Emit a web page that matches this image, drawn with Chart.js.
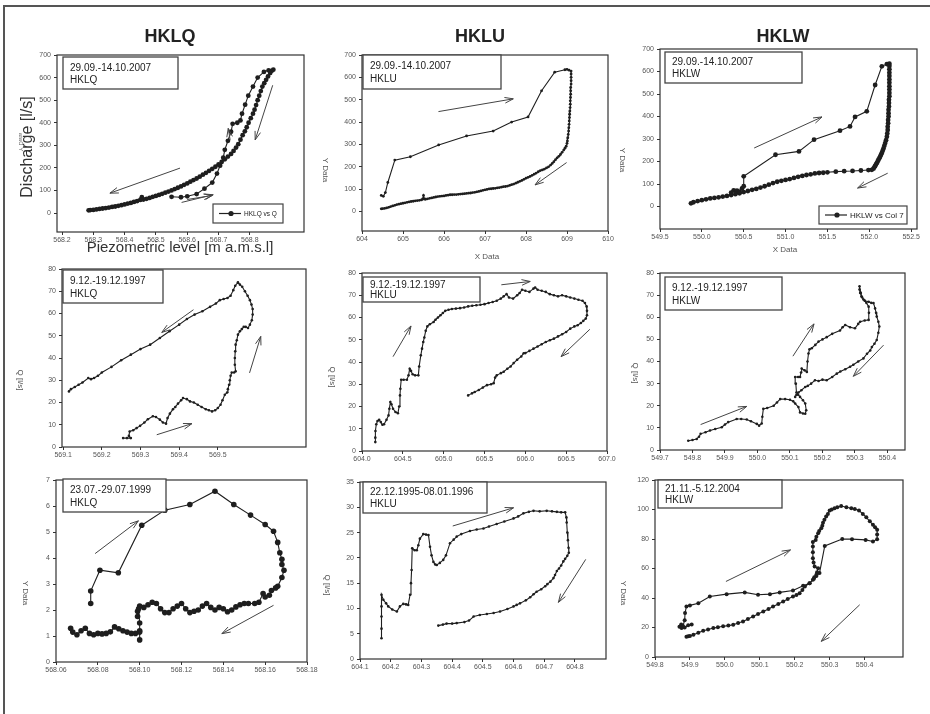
<!DOCTYPE html>
<html><head><meta charset="utf-8">
<script src="https://cdn.jsdelivr.net/npm/chart.js@4"></script>
<style>
body{margin:0;background:#fff;}
#wrap{position:relative;width:930px;height:714px;overflow:hidden;background:#fff;}
#wrap canvas{position:absolute;left:0;top:0;}
#frame{position:absolute;left:3px;top:5px;width:1000px;height:1000px;border:2px solid #555;box-sizing:border-box;}
</style></head>
<body><div id="wrap"><div id="frame"></div></div>
<script>
// ---------- DATA ----------
// [piezometric level, discharge] in sequence
const hklq2007 = [[568.55,72],[568.58,70],[568.60,74],[568.63,84],[568.655,108],[568.68,135],[568.695,175],[568.705,210],[568.715,245],[568.72,280],[568.73,320],[568.74,360],[568.745,395],[568.76,400],[568.77,410],[568.775,440],[568.785,480],[568.795,520],[568.81,560],[568.825,600],[568.845,625],[568.86,632],[568.875,635],
[568.87,630],[568.865,620],[568.858,605],[568.852,590],[568.846,575],[568.84,560],[568.835,540],[568.83,520],[568.825,500],[568.82,478],[568.815,458],[568.81,440],[568.803,420],[568.796,400],[568.79,380],[568.784,362],[568.777,345],[568.77,325],[568.763,305],[568.756,290],[568.748,275],[568.74,262],[568.73,250],[568.72,238],[568.71,226],[568.70,215],[568.69,205],[568.68,196],[568.67,187],[568.66,178],[568.65,170],[568.64,161],[568.63,153],[568.62,146],[568.61,139],[568.60,131],[568.59,125],[568.58,118],[568.57,112],[568.56,106],[568.55,100],[568.54,95],[568.53,90],[568.52,85],[568.51,80],[568.50,76],[568.49,72],[568.48,67],[568.47,63],[568.46,60],[568.455,70],[568.45,58],[568.44,53],[568.43,49],[568.42,45],[568.41,42],[568.40,38],[568.39,35],[568.38,32],[568.37,29],[568.36,27],[568.35,24],[568.34,22],[568.33,20],[568.32,18],[568.31,16],[568.30,14],[568.29,13],[568.285,12]];

const hklu2007 = [[604.47,72],[604.52,68],[604.57,85],[604.63,130],[604.8,230],[605.18,245],[605.87,298],[606.55,338],[607.2,360],[607.65,400],[608.05,423],[608.38,540],[608.7,623],[608.95,634],[609.0,636],[609.05,632],[609.1,628],
[609.1,615],[609.1,600],[609.1,585],[609.1,570],[609.09,555],[609.09,540],[609.09,525],[609.085,510],[609.08,495],[609.08,480],[609.075,465],[609.07,450],[609.065,435],[609.06,420],[609.055,405],[609.05,390],[609.045,375],[609.04,360],[609.03,345],[609.02,330],[609.01,315],[609.0,305],[608.98,292],[608.95,283],[608.92,275],[608.88,265],[608.84,255],[608.8,247],[608.76,240],[608.72,232],[608.68,223],[608.64,215],[608.6,208],[608.55,200],[608.5,195],[608.45,190],[608.4,186],[608.35,183],[608.3,178],[608.25,172],[608.2,167],[608.15,162],[608.1,157],[608.05,153],[608.0,149],[607.95,144],[607.9,139],[607.85,135],[607.8,131],[607.75,127],[607.7,123],[607.65,120],[607.6,117],[607.55,114],[607.5,112],[607.45,111],[607.4,109],[607.35,107],[607.3,106],[607.25,104],[607.2,103],[607.15,102],[607.1,101],[607.05,99],[607.0,97],[606.95,95],[606.9,92],[606.85,90],[606.8,88],[606.75,86],[606.7,85],[606.65,83],[606.6,82],[606.55,81],[606.5,80],[606.45,79],[606.4,78],[606.35,77],[606.3,76],[606.25,76],[606.2,75],[606.15,75],[606.1,73],[606.05,72],[606.0,70],[605.95,69],[605.9,68],[605.85,67],[605.8,65],[605.75,63],[605.7,61],[605.65,59],[605.6,57],[605.55,55],[605.52,56],[605.5,72],[605.48,56],[605.45,52],[605.4,50],[605.35,49],[605.3,48],[605.25,46],[605.2,45],[605.15,43],[605.1,41],[605.05,39],[605.0,37],[604.95,35],[604.9,33],[604.85,31],[604.8,28],[604.75,25],[604.7,22],[604.65,19],[604.6,16],[604.55,14],[604.5,13],[604.47,12]];

const hklw2007 = [[550.35,62],[550.38,72],[550.42,70],[550.45,66],[550.48,80],[550.5,90],[550.5,134],[550.88,230],[551.16,245],[551.34,297],[551.65,337],[551.77,356],[551.83,398],[551.97,423],[552.07,540],[552.15,623],[552.21,633],[552.24,635],
[552.24,625],[552.24,610],[552.24,595],[552.24,580],[552.24,565],[552.24,550],[552.24,535],[552.24,520],[552.24,505],[552.24,490],[552.235,475],[552.235,460],[552.235,445],[552.23,430],[552.23,415],[552.23,400],[552.225,385],[552.225,370],[552.22,355],[552.22,340],[552.215,325],[552.21,310],[552.2,295],[552.19,282],[552.18,270],[552.17,258],[552.16,248],[552.15,238],[552.14,230],[552.13,222],[552.12,214],[552.11,208],[552.1,200],[552.09,193],[552.08,187],[552.07,180],[552.06,174],[552.05,168],[552.03,163],[551.99,162],[551.9,160],[551.8,158],[551.7,157],[551.6,155],[551.5,152],[551.45,150],[551.4,149],[551.35,147],[551.3,143],[551.25,140],[551.2,136],[551.15,132],[551.1,127],[551.05,122],[551.0,118],[550.95,114],[550.9,110],[550.85,104],[550.8,97],[550.75,90],[550.7,84],[550.65,78],[550.6,74],[550.55,69],[550.5,64],[550.45,59],[550.4,55],[550.35,51],[550.3,47],[550.25,44],[550.2,41],[550.15,38],[550.1,36],[550.05,32],[550.0,28],[549.95,24],[549.9,19],[549.87,14]];

const hklq1997 = [[569.255,4],[569.265,4],[569.275,4],[569.27,5],[569.272,7],[569.281,7.5],[569.29,8.5],[569.299,9.5],[569.31,11],[569.319,12.5],[569.332,13.8],[569.34,13.5],[569.35,12.3],[569.358,11],[569.366,10.5],[569.37,13],[569.376,15],[569.384,17],[569.39,18],[569.397,19.5],[569.405,21],[569.41,22],[569.42,21.5],[569.428,20.5],[569.438,20],[569.448,19],[569.458,18],[569.469,17],[569.477,16.5],[569.485,16],[569.493,16.5],[569.5,17.5],[569.507,19],[569.512,21],[569.518,23.5],[569.524,24.5],[569.526,26],[569.529,28],[569.531,30],[569.533,32],[569.536,33.5],[569.542,33.5],[569.546,34],[569.544,37],[569.544,40],[569.545,43],[569.546,46],[569.549,48],[569.552,50.5],[569.557,52],[569.562,53],[569.567,54],[569.572,54],[569.578,53.5],[569.583,55],[569.588,57],[569.59,59.5],[569.59,62],[569.587,64],[569.583,66],[569.577,68],[569.57,70],[569.563,72],[569.557,73],[569.552,74],
[569.545,72.5],[569.54,70.5],[569.533,68],[569.525,67],[569.515,66.5],[569.505,66],[569.495,64.5],[569.48,63],[569.46,61],[569.44,59.5],[569.42,57.5],[569.4,55],[569.375,52],[569.35,49],[569.325,46],[569.3,44],[569.275,41.5],[569.25,39],[569.225,36],[569.2,33.5],[569.19,32],[569.18,31],[569.172,30.5],[569.165,31],[569.15,29],[569.14,28],[569.13,27],[569.12,26],[569.115,25]];

const hklu1997 = [[604.163,4],[604.163,6],[604.165,9],[604.175,12],[604.19,13.5],[604.21,14],[604.23,13],[604.25,11.8],[604.27,12],[604.3,14],[604.325,16],[604.335,19],[604.347,22],[604.36,21],[604.38,19],[604.41,17.5],[604.44,17],[604.455,20],[604.465,25],[604.47,28],[604.48,32],[604.51,32],[604.55,32],[604.57,34],[604.584,37],[604.6,36],[604.62,34.5],[604.65,34],[604.69,34],[604.7,38],[604.72,43],[604.735,46],[604.75,49],[604.763,51],[604.78,54],[604.8,56],[604.83,57],[604.877,58],[604.9,59],[604.93,60],[604.96,61],[604.99,62],[605.02,63],[605.06,63.5],[605.1,63.8],[605.15,64],[605.2,64.2],[605.25,64.5],[605.3,65],[605.35,65.3],[605.4,65.5],[605.45,65.7],[605.5,66],[605.55,66.5],[605.6,67],[605.65,67.5],[605.7,68.5],[605.735,69.5],[605.77,70.5],[605.8,69],[605.85,68.5],[605.9,70],[605.93,71],[605.96,72.5],[606.0,72],[606.05,71.5],[606.1,73],[606.12,73.5],[606.15,72.5],[606.2,72],[606.25,71.5],[606.3,70.5],[606.35,70],[606.4,69.5],[606.45,70],[606.5,69.5],[606.55,69],[606.6,68.5],[606.65,68],[606.7,67.5],[606.73,66.5],[606.75,65],[606.755,63],[606.755,61],[606.74,59.5],[606.71,58.5],[606.68,57.5],[606.64,56.5],[606.6,56],[606.55,55],[606.5,53.5],[606.45,52.5],[606.4,51.5],[606.35,50.5],[606.3,49.8],[606.25,49],[606.2,48],[606.15,47],[606.1,46],[606.05,45],[606.0,44],[605.98,43.9],[605.95,42.5],[605.9,41],[605.857,39.5],[605.82,38],[605.78,37],[605.735,35.6],[605.7,35],[605.65,34],[605.63,33],[605.612,30.5],[605.58,30],[605.53,29.6],[605.48,28.5],[605.43,27.4],[605.38,26.5],[605.347,25.9],[605.3,25]];

const hklw1997 = [[549.787,4.2],[549.8,4.5],[549.813,5],[549.82,6],[549.825,7.3],[549.84,8],[549.854,8.8],[549.87,9.5],[549.89,10.3],[549.9,11.5],[549.91,12.6],[549.936,14],[549.95,14],[549.967,13.8],[549.98,13],[549.998,11.8],[550.005,11],[550.013,12],[550.015,15],[550.018,18.6],[550.03,19],[550.05,20],[550.06,21.5],[550.07,23],[550.085,23],[550.1,22.7],[550.11,22],[550.116,21],[550.126,19.4],[550.131,17],[550.14,16.5],[550.147,16.4],[550.15,18],[550.147,21],[550.14,22.5],[550.131,24],[550.125,25],[550.12,26],[550.118,30],[550.116,33],[550.125,33],[550.131,33],[550.134,35],[550.136,36.8],[550.145,36],[550.152,35.3],[550.154,40],[550.157,43.6],[550.16,45.5],[550.167,46],[550.178,47.5],[550.188,49],[550.2,50],[550.213,51],[550.23,52.5],[550.254,54],[550.262,55.5],[550.27,56.5],[550.285,55.5],[550.3,55],[550.31,57],[550.316,58],[550.33,58.5],[550.342,58.8],[550.343,62],[550.342,64.8],[550.335,66.5],[550.326,68],[550.32,69.5],[550.316,71],[550.314,72.5],[550.314,74],
[550.318,71],[550.322,69],[550.33,67.5],[550.342,67],[550.35,66.5],[550.357,66.4],[550.362,64],[550.365,62],[550.367,60.3],[550.372,58],[550.375,55.8],[550.372,53],[550.367,49.7],[550.36,48],[550.352,46.5],[550.347,45],[550.337,43.5],[550.326,41.4],[550.31,40],[550.295,38.5],[550.285,37.6],[550.27,36.5],[550.255,35.5],[550.244,34.5],[550.23,33],[550.213,31.5],[550.2,31.8],[550.188,31.2],[550.177,31.5],[550.165,30],[550.155,29],[550.147,28.5],[550.135,27],[550.126,26],[550.12,25],[550.116,24]];

const hklq1999 = [[568.0766,2.25],[568.0766,2.73],[568.081,3.53],[568.0898,3.43],[568.101,5.26],[568.112,5.84],[568.124,6.06],[568.136,6.57],[568.145,6.06],[568.153,5.65],[568.16,5.29],[568.164,5.03],[568.166,4.6],[568.167,4.2],[568.168,3.95],[568.168,3.75],[568.169,3.53],[568.168,3.25],[568.166,2.91],[568.165,2.85],[568.163,2.75],[568.162,2.57],[568.16,2.5],[568.159,2.63],[568.157,2.3],[568.155,2.25],[568.152,2.25],[568.15,2.25],[568.148,2.2],[568.146,2.12],[568.144,2.0],[568.142,1.93],[568.14,2.05],[568.138,2.1],[568.136,2.0],[568.134,2.1],[568.132,2.25],[568.13,2.15],[568.128,2.0],[568.126,1.95],[568.124,1.9],[568.122,2.05],[568.12,2.25],[568.118,2.15],[568.116,2.05],[568.114,1.9],[568.112,1.9],[568.11,2.05],[568.108,2.25],[568.106,2.3],[568.104,2.2],[568.102,2.1],[568.1,2.15],[568.099,1.95],[568.099,1.75],[568.0995,2.05],[568.1,1.5],[568.1,1.2],[568.1,0.85],[568.1,1.15],[568.098,1.1],[568.096,1.1],[568.094,1.15],[568.092,1.2],[568.09,1.28],[568.088,1.35],[568.086,1.16],[568.084,1.1],[568.082,1.08],[568.08,1.1],[568.078,1.05],[568.076,1.1],[568.074,1.3],[568.072,1.2],[568.07,1.05],[568.068,1.15],[568.067,1.3]];

const hklu1995 = [[604.17,4.1],[604.17,6],[604.17,8.4],[604.17,10.4],[604.17,12.7],[604.176,11.7],[604.185,11],[604.192,10.4],[604.205,9.8],[604.22,9.4],[604.23,10.4],[604.241,10.9],[604.25,10.8],[604.257,10.7],[604.263,12.7],[604.266,15],[604.268,17.6],[604.27,21.9],[604.278,21.5],[604.285,21.5],[604.29,22.5],[604.295,23.8],[604.306,24.7],[604.315,24.6],[604.323,24.5],[604.328,22.2],[604.333,20.5],[604.339,19.2],[604.345,18.7],[604.35,18.6],[604.36,19],[604.371,19.6],[604.38,20.5],[604.393,22.9],[604.405,23.6],[604.415,24.2],[604.43,24.7],[604.458,25.3],[604.48,25.6],[604.502,25.8],[604.52,26.2],[604.545,26.7],[604.57,27.2],[604.6,27.8],[604.615,28.2],[604.632,28.8],[604.65,29.1],[604.665,29.3],[604.685,29.2],[604.708,29.3],[604.725,29.2],[604.741,29.1],[604.755,29],[604.768,29],[604.772,28],[604.773,27],[604.775,25],[604.777,23.5],[604.779,22],[604.78,21],[604.775,20.4],[604.768,19.8],[604.762,19.3],[604.755,18.5],[604.748,17.9],[604.741,17.4],[604.735,16.6],[604.73,16],[604.72,15.3],[604.71,14.8],[604.703,14.4],[604.69,13.8],[604.675,13.3],[604.665,12.8],[604.654,12.2],[604.64,11.6],[604.621,11],[604.61,10.7],[604.6,10.4],[604.58,9.9],[604.556,9.4],[604.535,9.1],[604.513,8.9],[604.49,8.7],[604.47,8.4],[604.455,7.6],[604.44,7.3],[604.415,7.1],[604.4,7],[604.382,7],[604.37,6.8],[604.355,6.6]];

const hklw2004 = [[549.905,22],[549.895,21.5],[549.885,20],[549.876,19.6],[549.87,20.5],[549.875,22],[549.88,21],[549.885,25],[549.886,29.8],[549.89,34.3],[549.9,35],[549.924,36.5],[549.957,41],[550.005,42.6],[550.057,43.8],[550.095,42.2],[550.129,42.6],[550.157,43.8],[550.195,45.1],[550.224,48.3],[550.243,50],[550.255,53],[550.262,55],[550.271,57],[550.286,75.3],[550.336,80],[550.364,79.9],[550.403,79.4],[550.424,78.3],[550.436,79.9],[550.436,83],[550.436,86.2],[550.43,88],[550.424,89.6],[550.415,92],[550.405,94.7],[550.395,97],[550.384,99.3],[550.372,100.3],[550.362,100.8],[550.348,101.5],[550.333,102.4],[550.322,101.5],[550.314,100.8],[550.306,100],[550.3,99.3],[550.295,97],[550.29,95.2],[550.285,93],[550.281,91.1],[550.279,89],[550.276,87.3],[550.27,85.5],[550.267,83.9],[550.262,81.5],[550.26,79.4],[550.252,78],[550.252,74.9],[550.252,71],[550.252,67],[550.254,64],[550.257,61.4],[550.267,60.2],[550.264,57.5],[550.262,55.7],[550.256,54],[550.252,52.3],[550.242,50],[550.229,47.8],[550.222,45.5],[550.214,43.3],[550.205,42],[550.195,41],[550.18,39.3],[550.167,37.7],[550.153,36],[550.138,34.3],[550.125,32.5],[550.11,30.9],[550.095,29.2],[550.081,27.5],[550.066,25.8],[550.052,24.1],[550.038,23],[550.024,21.9],[550.01,21.3],[549.995,20.8],[549.98,20.2],[549.967,19.6],[549.952,18.7],[549.938,17.8],[549.924,16.5],[549.91,15.1],[549.9,14.2],[549.895,14],[549.89,13.8]];

// arrows [x1,y1,x2,y2] in data units
const arrowsHklq2007 = [[568.577,199,568.353,88],[568.873,566,568.817,324],[568.737,324,568.731,375],[568.582,47,568.683,81],[568.60,60,568.68,78]];
const arrowsHklu2007 = [[605.865,447,607.69,504],[608.99,219,608.22,119]];
const arrowsHklw2007 = [[550.625,260,551.435,398],[552.22,148,551.86,82]];
const arrowsHklq1997 = [[569.437,61.7,569.355,51.5],[569.582,33.3,569.611,49.7],[569.342,5.5,569.433,10.5]];
const arrowsHklu1997 = [[604.38,42.4,604.6,56.2],[605.706,74.7,606.06,76.2],[606.79,54.7,606.437,42.4]];
const arrowsHklw1997 = [[550.109,42.4,550.174,57],[550.388,47.4,550.295,33.3],[549.825,11.5,549.967,19.7]];
const arrowsHklq1999 = [[568.0787,4.17,568.0994,5.43],[568.164,2.18,568.1393,1.09]];
const arrowsHklu1995 = [[604.402,26.3,604.6,29.9],[604.835,19.7,604.746,11.2]];
const arrowsHklw2004 = [[550.003,51.2,550.188,72.6],[550.386,35.4,550.276,10.6]];

// tick values
const ticksQ2007x = [568.2,568.3,568.4,568.5,568.6,568.7,568.8];
const ticksU2007x = [604,605,606,607,608,609,610];
const ticksW2007x = [549.5,550.0,550.5,551.0,551.5,552.0,552.5];
const ticks2007y = [0,100,200,300,400,500,600,700];
const ticksQ1997x = [569.1,569.2,569.3,569.4,569.5];
const ticksU1997x = [604.0,604.5,605.0,605.5,606.0,606.5,607.0];
const ticksW1997x = [549.7,549.8,549.9,550.0,550.1,550.2,550.3,550.4];
const ticks1997y = [0,10,20,30,40,50,60,70,80];
const ticksQ1999x = [568.06,568.08,568.10,568.12,568.14,568.16,568.18];
const ticksQ1999y = [0,1,2,3,4,5,6,7];
const ticksU1995x = [604.1,604.2,604.3,604.4,604.5,604.6,604.7,604.8];
const ticksU1995y = [0,5,10,15,20,25,30,35];
const ticksW2004x = [549.8,549.9,550.0,550.1,550.2,550.3,550.4];
const ticksW2004y = [0,20,40,60,80,100,120];

// ---------- LAYOUT ----------
const FONT = '"Liberation Sans", Arial, sans-serif';
const AXW = 30, AXH = 14;
const panels = [
 {data:hklq2007, arrows:arrowsHklq2007, L:57,T:55,R:304,B:232, xmin:568.184,xmax:568.973,ymin:-84,ymax:700, xt:ticksQ2007x, yt:ticks2007y, xd:1, r:2.4,
  title:['HKLQ',170,37], box:[63,57,178,89,'29.09.-14.10.2007','HKLQ'],
  ylab:['Discharge [l/s]',28,147,-1,'16px'], xlab:['Piezometric level [m a.m.s.l]',180,248,'15px'], ghost:true,
  legend:[213,204,283,223,'HKLQ vs Q','6.5px']},
 {data:hklu2007, arrows:arrowsHklu2007, L:362,T:55,R:608,B:231, xmin:604,xmax:610,ymin:-87,ymax:700, xt:ticksU2007x, yt:ticks2007y, xd:0, r:1.4,
  title:['HKLU',480,37], box:[363,55,501,89,'29.09.-14.10.2007','HKLU'],
  ylab:['Y Data',325,170,1,'8px'], xlab:['X Data',487,257,'8px']},
 {data:hklw2007, arrows:arrowsHklw2007, L:660,T:49,R:917,B:229, xmin:549.5,xmax:552.57,ymin:-100,ymax:700, xt:ticksW2007x, yt:ticks2007y, xd:1, r:2.4,
  title:['HKLW',783,37], box:[665,52,802,83,'29.09.-14.10.2007','HKLW'],
  ylab:['Y Data',622,160,1,'8px'], xlab:['X Data',785,250,'8px'],
  legend:[819,206,907,224,'HKLW vs Col 7','8px']},
 {data:hklq1997, arrows:arrowsHklq1997, L:62,T:269,R:306,B:447, xmin:569.097,xmax:569.728,ymin:0,ymax:80, xt:ticksQ1997x, yt:ticks1997y, xd:1, r:1.3,
  box:[63,270,163,303,'9.12.-19.12.1997','HKLQ'], ylab:['Q [l/s]',20,380,1,'8px']},
 {data:hklu1997, arrows:arrowsHklu1997, L:362,T:273,R:607,B:451, xmin:604,xmax:607,ymin:0,ymax:80, xt:ticksU1997x, yt:ticks1997y, xd:1, r:1.3,
  box:[363,277,480,302,'9.12.-19.12.1997','HKLU'], ylab:['Q [l/s]',332,377,1,'8px']},
 {data:hklw1997, arrows:arrowsHklw1997, L:660,T:273,R:905,B:450, xmin:549.7,xmax:550.454,ymin:0,ymax:80, xt:ticksW1997x, yt:ticks1997y, xd:1, r:1.3,
  box:[665,277,782,310,'9.12.-19.12.1997','HKLW'], ylab:['Q [l/s]',635,373,1,'8px']},
 {data:hklq1999, arrows:arrowsHklq1999, L:56,T:480,R:307,B:662, xmin:568.06,xmax:568.18,ymin:0,ymax:7, xt:ticksQ1999x, yt:ticksQ1999y, xd:2, r:2.8,
  box:[63,479,166,512,'23.07.-29.07.1999','HKLQ'], ylab:['Y Data',25,593,1,'8px']},
 {data:hklu1995, arrows:arrowsHklu1995, L:360,T:482,R:606,B:659, xmin:604.1,xmax:604.901,ymin:0,ymax:35, xt:ticksU1995x, yt:ticksU1995y, xd:1, r:1.3,
  box:[363,482,487,513,'22.12.1995-08.01.1996','HKLU'], ylab:['Q [l/s]',327,585,1,'8px']},
 {data:hklw2004, arrows:arrowsHklw2004, L:655,T:480,R:903,B:657, xmin:549.8,xmax:550.51,ymin:0,ymax:120, xt:ticksW2004x, yt:ticksW2004y, xd:1, r:2.0,
  box:[658,480,782,508,'21.11.-5.12.2004','HKLW'], ylab:['Y Data',623,593,1,'8px']}
];

// ---------- DRAW HELPERS ----------
function arrow(ctx,x1,y1,x2,y2){
  const ang=Math.atan2(y2-y1,x2-x1), h=9, s=0.32;
  ctx.beginPath(); ctx.moveTo(x1,y1); ctx.lineTo(x2,y2);
  ctx.moveTo(x2-h*Math.cos(ang-s),y2-h*Math.sin(ang-s)); ctx.lineTo(x2,y2);
  ctx.lineTo(x2-h*Math.cos(ang+s),y2-h*Math.sin(ang+s)); ctx.stroke();
}
function drawAnno(chart,p){
  const ctx=chart.ctx, a=chart.chartArea, xs=chart.scales.x, ys=chart.scales.y;
  ctx.save();
  ctx.strokeStyle='#333'; ctx.lineWidth=1.2;
  ctx.strokeRect(a.left,a.top,a.right-a.left,a.bottom-a.top);
  ctx.strokeStyle='#444'; ctx.lineWidth=1;
  p.arrows.forEach(r=>arrow(ctx,xs.getPixelForValue(r[0]),ys.getPixelForValue(r[1]),xs.getPixelForValue(r[2]),ys.getPixelForValue(r[3])));
  const b=p.box; ctx.fillStyle='#fff'; ctx.fillRect(b[0],b[1],b[2]-b[0],b[3]-b[1]);
  ctx.strokeStyle='#444'; ctx.lineWidth=1.3; ctx.strokeRect(b[0],b[1],b[2]-b[0],b[3]-b[1]);
  ctx.fillStyle='#222'; ctx.font='10px '+FONT; ctx.textAlign='left'; ctx.textBaseline='middle';
  const h=b[3]-b[1];
  ctx.fillText(b[4],b[0]+7,b[1]+h*0.34); ctx.fillText(b[5],b[0]+7,b[1]+h*0.72);
  if(p.title){ctx.font='bold 18px '+FONT; ctx.textAlign='center'; ctx.fillStyle='#222'; ctx.fillText(p.title[0],p.title[1],p.title[2]);}
  if(p.ylab){const y=p.ylab; ctx.save(); ctx.translate(y[1],y[2]); ctx.rotate(y[3]*Math.PI/2);
    ctx.font=y[4]+' '+FONT; ctx.fillStyle=y[4]==='8px'?'#555':'#333'; ctx.textAlign='center'; ctx.fillText(y[0],0,0); ctx.restore();}
  if(p.ghost){ctx.save(); ctx.translate(21,142); ctx.rotate(-Math.PI/2); ctx.scale(1,-1);
    ctx.font='6px '+FONT; ctx.fillStyle='#666'; ctx.textAlign='center'; ctx.fillText('Y Data',0,0); ctx.restore();}
  if(p.xlab){const x=p.xlab; ctx.font=x[3]+' '+FONT; ctx.fillStyle=x[3]==='8px'?'#555':'#333'; ctx.textAlign='center'; ctx.fillText(x[0],x[1],x[2]);}
  if(p.legend){const l=p.legend; ctx.fillStyle='#fff'; ctx.fillRect(l[0],l[1],l[2]-l[0],l[3]-l[1]);
    ctx.strokeStyle='#444'; ctx.lineWidth=1.2; ctx.strokeRect(l[0],l[1],l[2]-l[0],l[3]-l[1]);
    const cy=(l[1]+l[3])/2; ctx.strokeStyle='#222'; ctx.lineWidth=1.2; ctx.beginPath(); ctx.moveTo(l[0]+6,cy); ctx.lineTo(l[0]+28,cy); ctx.stroke();
    ctx.fillStyle='#222'; ctx.beginPath(); ctx.arc(l[0]+18,cy,2.6,0,Math.PI*2); ctx.fill();
    ctx.font=l[5]+' '+FONT; ctx.textAlign='left'; ctx.fillText(l[4],l[0]+31,cy+0.5);}
  ctx.restore();
}

// ---------- CHARTS ----------
const wrap=document.getElementById('wrap');
panels.forEach((p,i)=>{
  const c=document.createElement('canvas'); c.width=930; c.height=714; wrap.appendChild(c);
  const tickFont={size:7,family:FONT};
  new Chart(c,{
    type:'scatter',
    data:{datasets:[{data:p.data.map(d=>({x:d[0],y:d[1]})), showLine:true, borderColor:'#1e1e1e', borderWidth:1.1,
      pointRadius:p.r, pointHoverRadius:p.r, pointBackgroundColor:'#1e1e1e', pointBorderWidth:0, tension:0}]},
    options:{responsive:false, animation:false, devicePixelRatio:1, events:[],
      layout:{padding:{left:p.L-AXW, top:p.T, right:930-p.R, bottom:714-p.B-AXH}},
      plugins:{legend:{display:false}, tooltip:{enabled:false}, title:{display:false}},
      scales:{
        x:{type:'linear', min:p.xmin, max:p.xmax,
          afterFit(s){s.height=AXH;}, afterBuildTicks(s){s.ticks=p.xt.map(v=>({value:v}));},
          ticks:{callback:v=>Number(v).toFixed(p.xd), font:tickFont, color:'#555', maxRotation:0, minRotation:0, autoSkip:false, padding:1},
          grid:{drawOnChartArea:false, drawTicks:true, tickLength:3, color:'#333'}, border:{display:false}},
        y:{type:'linear', min:p.ymin, max:p.ymax,
          afterFit(s){s.width=AXW;}, afterBuildTicks(s){s.ticks=p.yt.map(v=>({value:v}));},
          ticks:{callback:v=>String(v), font:tickFont, color:'#555', autoSkip:false, padding:3},
          grid:{drawOnChartArea:false, drawTicks:true, tickLength:3, color:'#333'}, border:{display:false}}
      }},
    plugins:[{id:'anno'+i, afterDraw(chart){drawAnno(chart,p);}}]
  });
});
</script></body></html>
